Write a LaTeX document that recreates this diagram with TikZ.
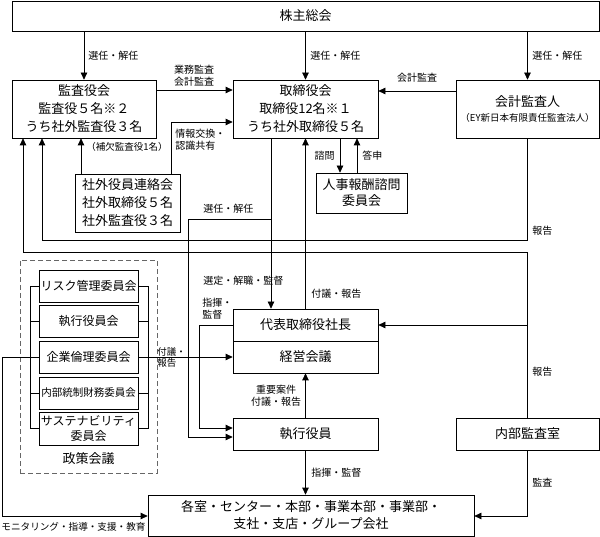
\documentclass[tikz,border=0pt]{standalone}
\usepackage{fontspec}
\setmainfont{Noto Sans CJK JP}
\usetikzlibrary{arrows.meta}
\begin{document}
\begin{tikzpicture}[x=1pt,y=-1pt,line width=0.7pt,
  box/.style={draw, rectangle, inner sep=0pt, align=center, font=\fontsize{13}{18}\selectfont},
  sbox/.style={draw, rectangle, inner sep=0pt, align=center, minimum width=99pt, font=\fontsize{12}{15}\selectfont},
  lbl/.style={inner sep=0pt, font=\fontsize{10}{12}\selectfont},
  arr/.style={-{Triangle[length=7pt,width=6.5pt]}}]
\useasboundingbox (0,0) rectangle (600,537);
% main boxes
\node[box, minimum width=587pt, minimum height=30pt] (sh) at (305.5,16) {株主総会};
\node[box, minimum width=144pt, minimum height=58pt] (kansa) at (84,109) {監査役会\\監査役５名※２\\うち社外監査役３名};
\node[box, minimum width=145pt, minimum height=58pt] (tori) at (305.5,109) {取締役会\\取締役12名※１\\うち社外取締役５名};
\node[box, minimum width=143pt, minimum height=58pt, font=\fontsize{13}{15}\selectfont] (kaikei) at (527.5,109) {会計監査人\\{\fontsize{9.5}{12}\selectfont （EY新日本有限責任監査法人）}};
\node[box, minimum width=105pt, minimum height=58pt] (shagai) at (127.5,203) {社外役員連絡会\\社外取締役５名\\社外監査役３名};
\node[box, minimum width=91pt, minimum height=40pt, font=\fontsize{13}{16}\selectfont] (jinji) at (361.5,193) {人事報酬諮問\\委員会};
\node[box, minimum width=145pt, minimum height=32pt] (pres) at (305.5,325) {代表取締役社長};
\node[box, minimum width=145pt, minimum height=32pt] (keiei) at (305.5,357) {経営会議};
\node[box, minimum width=145pt, minimum height=32pt] (shikko) at (305.5,434) {執行役員};
\node[box, minimum width=143pt, minimum height=32pt] (naibu) at (527.5,434) {内部監査室};
\node[box, minimum width=326pt, minimum height=41pt, font=\fontsize{13}{17}\selectfont] (kaku) at (311,515.5) {各室・センター・本部・事業本部・事業部・\\支社・支店・グループ会社};
% policy meeting
\node[draw=black!60, dashed, dash pattern=on 5pt off 3pt, minimum width=137pt, minimum height=213pt, inner sep=0pt] (policy) at (88.5,366.5) {};
\node[sbox, minimum height=32pt] (risk) at (88.5,286) {リスク管理委員会};
\node[sbox, minimum height=32pt] (skk) at (88.5,321) {執行役員会};
\node[sbox, minimum height=32pt] (rinri) at (88.5,357) {企業倫理委員会};
\node[sbox, minimum height=32pt, font=\fontsize{10.5}{12}\selectfont] (ntc) at (88.5,393) {内部統制財務委員会};
\node[sbox, minimum height=33pt] (sus) at (88.5,428.5) {サステナビリティ\\委員会};
\node[inner sep=0pt, font=\fontsize{13}{15}\selectfont] (plabel) at (88.5,459) {政策会議};
% brackets
\draw (risk.west) -| (sus.west -| 30,0) -- (sus.west);
\draw (skk.west) -- (skk.west -| 30,0);
\draw (ntc.west) -- (ntc.west -| 30,0);
\draw (risk.east) -| (sus.east -| 148,0) -- (sus.east);
\draw (skk.east) -- (skk.east -| 148,0);
\draw (ntc.east) -- (ntc.east -| 148,0);
% connectors
\draw[arr] (sh.south -| kansa.north) -- (kansa.north);
\draw[arr] (sh.south -| tori.north) -- (tori.north);
\draw[arr] (sh.south -| kaikei.north) -- (kaikei.north);
\draw[arr] (kansa.east |- 0,90) -- (tori.west |- 0,90);
\draw[arr] (kaikei.west |- 0,91) -- (tori.east |- 0,91);
\draw[arr] (shagai.north -| 171,0) |- (tori.west |- 0,122);
\draw[arr] (shagai.north -| 81,0) -- (kansa.south -| 81,0);
\draw[arr] (kaikei.south) -- (kaikei.south |- 0,240) -| (kansa.south -| 42,0);
\draw[arr] (naibu.north) -- (naibu.north |- 0,252) -| (kansa.south -| 23,0);
\draw[arr] (naibu.north |- pres.east) -- (pres.east);
\draw[arr] (tori.south -| 271,0) -- (pres.north -| 271,0);
\draw[arr] (pres.north) -- (tori.south);
\draw[arr] (tori.south -| 340,0) -- (jinji.north -| 340,0);
\draw[arr] (jinji.north -| 357,0) -- (tori.south -| 357,0);
\coordinate (j1) at (271,219);
\draw[arr] (j1) -| (188,437) -- (shikko.west |- 0,437);
\draw[arr] (pres.west) -| (199,428) -- (shikko.west |- 0,428);
\draw[arr] (rinri.east) -- (keiei.west);
\draw[arr] (rinri.west) -| (2,516) -- (kaku.west |- 0,516);
\draw[arr] (shikko.north) -- (keiei.south);
\draw[arr] (shikko.south) -- (kaku.north -| shikko.south);
\draw[arr] (naibu.south) -- (naibu.south |- 0,516) -- (kaku.east |- 0,516);
% labels
\node[lbl, anchor=west] (l1) at (88,56) {選任・解任};
\node[lbl, anchor=west] (l2) at (310,56) {選任・解任};
\node[lbl, anchor=west] (l3) at (532,56) {選任・解任};
\node[lbl, align=center] (l4) at (194,76) {業務監査\\会計監査};
\node[lbl] (l5) at (417,78) {会計監査};
\node[lbl, anchor=west, align=left] (l6) at (175,140) {情報交換・\\認識共有};
\node[lbl, anchor=west, font=\fontsize{9.5}{11}\selectfont] (l7) at (86,147) {（補欠監査役1名）};
\node[lbl, anchor=east] (l8) at (335,156) {諮問};
\node[lbl, anchor=west] (l9) at (362,156) {答申};
\node[lbl, anchor=west] (l10) at (532,231) {報告};
\node[lbl, anchor=west] (l11) at (203,209) {選任・解任};
\node[lbl, anchor=west] (l12) at (203,281) {選定・解職・監督};
\node[lbl, anchor=west] (l13) at (311,294) {付議・報告};
\node[lbl, anchor=west, align=left] (l14) at (202,309) {指揮・\\監督};
\node[lbl, anchor=west, align=left, font=\fontsize{9.5}{11.5}\selectfont] (l15) at (157,357.5) {付議・\\報告};
\node[lbl, anchor=west] (l16) at (532,372) {報告};
\node[lbl, align=center] (l17) at (276,396) {重要案件\\付議・報告};
\node[lbl, anchor=west] (l18) at (311,473) {指揮・監督};
\node[lbl, anchor=west] (l19) at (532,483) {監査};
\node[lbl, font=\fontsize{9.6}{11}\selectfont] (l20) at (73.5,527) {モニタリング・指導・支援・教育};
\end{tikzpicture}
\end{document}
